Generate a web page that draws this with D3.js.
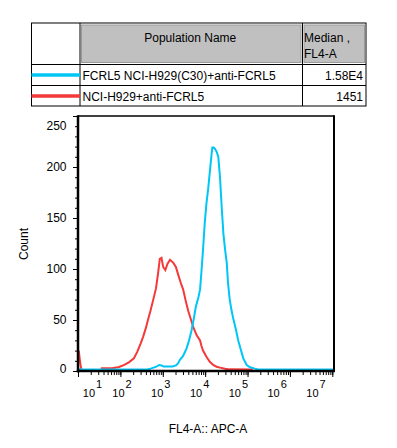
<!DOCTYPE html>
<html lang="en">
<head>
<meta charset="utf-8"/>
<title>FL4-A histogram</title>
<script src="https://d3js.org/d3.v7.min.js"></script>
<style>
  body { margin: 0; background: #fff; }
  svg { display: block; font-family: "Liberation Sans", Arial, sans-serif; }
  .frame { fill: none; stroke: #000; }
  .axis .domain { display: none; }
  .axis line { stroke: #000; stroke-width: 1; }
  .tick-label, .title { font-size: 12px; fill: #000; }
  .cell { font-size: 12px; fill: #000; }
</style>
</head>
<body>
<svg id="chart" width="397" height="448"></svg>
<script>
// populations shown in the legend table
var populations = ["FCRL5 NCI-H929(C30)+anti-FCRL5", "NCI-H929+anti-FCRL5"];
var medians = ["1.58E4", "1451"];
var colors = ["#00c6f6", "#f53838"];

// histogram counts, [log10(FL4-A), count]
var blueHist = [
  [1.00, 1.5], [2.64, 1.5], [2.73, 2.6], [2.85, 4.2], [2.91, 5.9], [2.97, 5.5],
  [3.02, 4.5], [3.23, 4.5], [3.31, 5.5], [3.36, 7.5], [3.40, 10.8], [3.48, 14.7],
  [3.56, 22], [3.62, 30], [3.68, 40], [3.73, 51], [3.78, 63], [3.84, 72],
  [3.88, 80], [3.91, 96], [3.95, 119], [3.99, 145], [4.03, 164], [4.07, 178],
  [4.11, 195], [4.15, 212], [4.17, 219], [4.20, 219], [4.23, 218], [4.27, 215],
  [4.31, 210], [4.35, 190], [4.39, 161], [4.43, 135], [4.47, 119], [4.51, 106],
  [4.54, 86], [4.58, 70], [4.62, 60], [4.66, 52], [4.73, 40], [4.78, 30],
  [4.84, 21], [4.90, 12.4], [4.98, 5.9], [5.06, 3.6], [5.17, 2.3], [5.25, 1.5],
  [7.04, 1.5]
];
var redHist = [
  [1.00, 19], [1.02, 19], [1.04, 12], [1.06, 6], [1.08, 1.5], [1.10, 0],
  [1.55, 0], [1.56, 2.6], [1.80, 2.6], [1.97, 4], [2.09, 6], [2.20, 8.5],
  [2.32, 12.5], [2.40, 19], [2.48, 27], [2.54, 34], [2.60, 42], [2.65, 50],
  [2.71, 59], [2.77, 69], [2.84, 81], [2.89, 96], [2.93, 110], [2.97, 111],
  [3.01, 102], [3.06, 99], [3.11, 105], [3.17, 109], [3.25, 106], [3.31, 102],
  [3.36, 95], [3.42, 87], [3.48, 80], [3.54, 69], [3.60, 59], [3.66, 51],
  [3.72, 43], [3.80, 35], [3.88, 30], [3.91, 25], [3.95, 20], [4.03, 14],
  [4.11, 9], [4.19, 6], [4.27, 4.2], [4.35, 3.3], [4.47, 2.3], [4.58, 1.6],
  [5.10, 1.5], [5.11, 0]
];

// axis ticks
var yMajor = [0, 50, 100, 150, 200, 250];
var xDecades = [1, 2, 3, 4, 5, 6, 7];

var svg = d3.select("#chart");

//LEGEND TABLE
var tab = svg.append("g");
var tLeft = 31.5, tRight = 366, tTop = 23, tBottom = 106;
var col1 = 80, col2 = 302.5, row1 = 64.5, rowH = 21;

// gray header cells
tab.append("rect").attr("x", col1 + 1.5).attr("y", tTop + 2)
  .attr("width", col2 - col1 - 3).attr("height", row1 - tTop - 4)
  .attr("fill", "#c0c0c0").attr("stroke", "#9a9a9a");
tab.append("rect").attr("x", col2 + 1.5).attr("y", tTop + 2)
  .attr("width", tRight - col2 - 3).attr("height", row1 - tTop - 4)
  .attr("fill", "#c0c0c0").attr("stroke", "#9a9a9a");

tab.append("rect").attr("class", "frame")
  .attr("x", tLeft).attr("y", tTop)
  .attr("width", tRight - tLeft).attr("height", tBottom - tTop);
[col1, col2].forEach(function(cx) {
  tab.append("line").attr("x1", cx).attr("x2", cx).attr("y1", tTop).attr("y2", tBottom)
    .attr("stroke", "#000");
});
[row1, row1 + rowH].forEach(function(cy) {
  tab.append("line").attr("x1", tLeft).attr("x2", tRight).attr("y1", cy).attr("y2", cy)
    .attr("stroke", "#000");
});

tab.append("text").attr("class", "cell").attr("x", (col1 + col2) / 2 - 1).attr("y", 41.5)
  .attr("text-anchor", "middle").text("Population Name");
tab.append("text").attr("class", "cell").attr("x", col2 + 1.5).attr("y", 42).text("Median ,");
tab.append("text").attr("class", "cell").attr("x", col2 + 1.5).attr("y", 58).text("FL4-A");

var rows = tab.selectAll("g.row")
  .data(populations)
  .enter().append("g")
    .attr("class", "row")
    .attr("transform", function(d, i) { return "translate(0," + (row1 + i * rowH) + ")"; });
rows.append("line")
  .attr("x1", tLeft).attr("x2", col1)
  .attr("y1", 10.5).attr("y2", 10.5)
  .attr("stroke", function(d, i) { return colors[i]; })
  .attr("stroke-width", 3.5);
rows.append("text").attr("class", "cell")
  .attr("x", col1 + 2.5).attr("y", 15.5)
  .text(function(d) { return d; });
rows.append("text").attr("class", "cell")
  .attr("x", tRight - 3).attr("y", 15.5)
  .attr("text-anchor", "end")
  .text(function(d, i) { return medians[i]; });

//HISTOGRAM
// (window.top is read-only, so the plot edges get their own names)
var pLeft = 78, pRight = 334, pTop = 116, pBottom = 371;
var x = d3.scaleLog()
  .domain([1e1, Math.pow(10, 7.04)])
  .range([pLeft, pRight]);
var y = d3.scaleLinear()
  .domain([0, 250])
  .range([pBottom, pTop]);
// the exported tick labels sit on a slightly compressed decade spacing
var xLabel = d3.scaleLog()
  .domain([1e2, 1e7])
  .range([122, 316]);

var line = d3.line()
  .x(function(d) { return x(Math.pow(10, d[0])); })
  .y(function(d) { return y(d[1]); });

var plot = svg.append("g");
plot.append("path").datum(redHist)
  .attr("d", line).attr("fill", "none")
  .attr("stroke", colors[1]).attr("stroke-width", 2);
plot.append("path").datum(blueHist)
  .attr("d", line).attr("fill", "none")
  .attr("stroke", colors[0]).attr("stroke-width", 2);

// y ticks
svg.append("g").attr("class", "axis")
  .attr("transform", "translate(" + pLeft + ",0)")
  .call(d3.axisLeft(y).tickValues(d3.range(0, 251, 10)).tickSize(3).tickSizeOuter(0).tickFormat(""));
svg.append("g").attr("class", "axis")
  .attr("transform", "translate(" + pLeft + ",0)")
  .call(d3.axisLeft(y).tickValues(yMajor).tickSize(5).tickSizeOuter(0).tickFormat(""));
svg.append("g").selectAll("text")
  .data(yMajor)
  .enter().append("text")
    .attr("class", "tick-label")
    .attr("x", pLeft - 11.5)
    .attr("y", function(d) { return Math.min(pBottom - 2.7, Math.max(pTop + 9.7, y(d))); })
    .attr("dy", "0.36em")
    .attr("text-anchor", "end")
    .text(function(d) { return d; });

// x ticks
var minorX = x.ticks().filter(function(d) { return d <= 1e7; });
svg.append("g").attr("class", "axis")
  .attr("transform", "translate(0," + pBottom + ")")
  .call(d3.axisBottom(x).tickValues(minorX).tickSize(4).tickSizeOuter(0).tickFormat(""));
svg.append("g").attr("class", "axis")
  .attr("transform", "translate(0," + pBottom + ")")
  .call(d3.axisBottom(x).tickValues(xDecades.map(function(k) { return Math.pow(10, k); }))
    .tickSize(6).tickSizeOuter(0).tickFormat(""));
var xl = svg.append("g").selectAll("text")
  .data(xDecades)
  .enter().append("text")
    .attr("class", "tick-label")
    .style("font-size", "11px")
    .attr("x", function(k) { return Math.max(pLeft + 14.5, xLabel(Math.pow(10, k))); })
    .attr("y", 397)
    .attr("text-anchor", "middle");
xl.append("tspan").text("10");
xl.append("tspan").attr("dx", 1).attr("dy", -9).text(function(k) { return k; });

// frame
svg.append("line").attr("x1", pLeft).attr("x2", pRight).attr("y1", pTop).attr("y2", pTop)
  .attr("stroke", "#000").attr("stroke-width", 1.5);
svg.append("line").attr("x1", pRight).attr("x2", pRight).attr("y1", pTop - 0.75).attr("y2", pBottom + 1)
  .attr("stroke", "#000").attr("stroke-width", 2);
svg.append("line").attr("x1", pLeft).attr("x2", pLeft).attr("y1", pTop - 0.75).attr("y2", pBottom + 1.25)
  .attr("stroke", "#000").attr("stroke-width", 2.5);
svg.append("line").attr("x1", pLeft - 1.25).attr("x2", pRight + 1).attr("y1", pBottom).attr("y2", pBottom)
  .attr("stroke", "#000").attr("stroke-width", 2.5);

// axis titles
svg.append("text").attr("class", "title")
  .attr("x", 208).attr("y", 433)
  .attr("text-anchor", "middle")
  .text("FL4-A:: APC-A");
svg.append("text").attr("class", "title")
  .attr("transform", "translate(28,244) rotate(-90)")
  .attr("text-anchor", "middle")
  .text("Count");
</script>
</body>
</html>
